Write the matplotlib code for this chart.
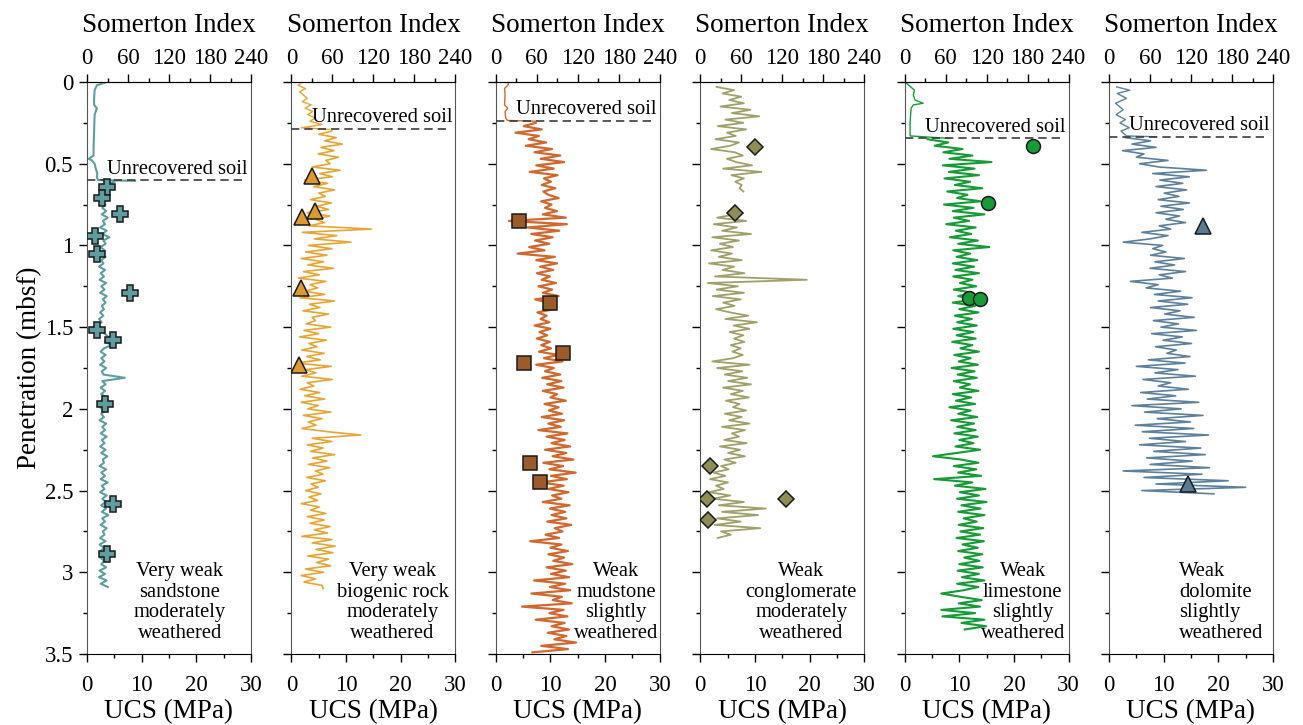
import numpy as np
import matplotlib
matplotlib.use('Agg')
import matplotlib.pyplot as plt
from matplotlib.ticker import FixedLocator, FuncFormatter

plt.rcParams['font.family'] = 'serif'
plt.rcParams['font.serif'] = ['Liberation Serif', 'DejaVu Serif']

STEP = 0.02  # spacing of the penetrometer record (m)

# --- Very weak sandstone ---
sand_soil_d = [0.0, 0.02, 0.05, 0.10, 0.14, 0.16, 0.20, 0.30, 0.40, 0.45, 0.47, 0.48, 0.50, 0.53, 0.56, 0.58, 0.60, 0.605]
sand_soil_v = [3.6, 1.8, 1.4, 1.3, 1.3, 1.8, 1.4, 1.3, 1.2, 1.2, 0.3, 0.9, 1.4, 1.6, 1.9, 1.8, 2.0, 8.8]
sand_top = 0.61
sand_v = [5.0, 3.2, 2.6, 3.3, 2.7, 3.1, 2.5, 3.4, 2.8, 3.5,
          2.7, 3.8, 2.9, 3.3, 2.4, 3.6, 2.8, 4.1, 3.0, 3.4,
          2.5, 3.2, 2.3, 3.4, 2.6, 3.0, 2.2, 3.3, 2.5, 3.1,
          2.3, 3.5, 2.6, 3.2, 2.4, 3.6, 2.9, 3.4, 2.7, 3.1,
          2.4, 3.0, 2.2, 2.7, 1.6, 1.7, 2.8, 3.6, 4.2, 3.3,
          4.5, 3.1, 2.5, 3.4, 2.6, 3.2, 2.4, 3.5, 2.7, 3.0,
          6.9, 2.8, 3.4, 2.5, 3.3, 2.6, 3.5, 2.7, 3.2, 2.4,
          3.4, 2.6, 3.1, 2.3, 3.5, 2.8, 3.3, 2.5, 3.6, 2.7,
          3.2, 2.4, 3.4, 2.6, 3.7, 2.9, 3.1, 2.3, 3.5, 2.6,
          3.3, 2.5, 3.8, 2.7, 3.2, 2.4, 3.6, 2.8, 3.4, 2.6,
          3.5, 2.7, 3.9, 2.8, 3.3, 2.5, 3.6, 2.9, 3.2, 2.4,
          3.4, 2.3, 3.1, 2.5, 3.7, 2.4, 3.2, 2.6, 3.5, 2.3,
          3.3, 2.2, 3.6, 2.5, 3.8]
sand_lab_d = [0.644, 0.712, 0.81, 0.94, 1.05, 1.29, 1.52, 1.58, 1.97, 2.58, 2.89]
sand_lab_v = [3.6, 2.7, 6.0, 1.5, 1.8, 7.9, 1.8, 4.7, 3.3, 4.7, 3.6]

# --- Very weak biogenic rock ---
bio_soil_d = [0.0, 0.02, 0.04, 0.06, 0.08, 0.10, 0.12, 0.14, 0.16, 0.18, 0.20, 0.22, 0.24, 0.26, 0.27, 0.28, 0.29]
bio_soil_v = [2.0, 1.2, 2.6, 1.5, 2.2, 2.9, 2.0, 3.6, 2.5, 3.9, 3.0, 4.4, 3.4, 5.6, 3.9, 1.8, 7.0]
bio_top = 0.30
bio_v = [7.4, 5.0, 8.2, 6.1, 9.3, 5.4, 7.8, 4.9, 8.6, 6.3,
         7.1, 3.8, 8.9, 5.2, 7.5, 2.4, 6.6, 4.1, 7.9, 5.0,
         6.2, 3.5, 7.3, 4.6, 6.8, 2.9, 7.0, 4.4, 6.1, 3.2,
         14.6, 2.0, 8.3, 4.2, 10.9, 3.1, 7.4, 2.6, 6.5, 1.8,
         5.9, 3.0, 7.7, 2.2, 5.1, 1.3, 6.3, 3.4, 4.8, 2.5,
         6.1, 1.6, 7.9, 3.3, 5.2, 2.1, 6.8, 3.8, 4.4, 2.7,
         7.2, 2.3, 5.0, 1.5, 6.4, 3.2, 4.7, 1.9, 6.0, 2.8,
         5.3, 0.8, 7.3, 2.6, 4.5, 1.9, 7.5, 2.9, 4.1, 1.6,
         5.2, 2.4, 6.1, 1.8, 4.9, 3.0, 7.2, 2.2, 5.6, 3.1,
         4.5, 1.9, 6.7, 12.7, 3.8, 7.4, 2.9, 5.8, 3.5, 7.9,
         3.9, 6.5, 3.1, 7.0, 4.4, 5.8, 2.8, 6.2, 3.6, 4.9,
         2.6, 5.4, 3.2, 4.8, 1.8, 5.1, 3.5, 6.3, 2.9, 6.0,
         3.4, 7.1, 4.2, 6.6, 1.9, 7.4, 3.8, 8.0, 4.5, 7.6,
         3.0, 6.8, 4.6, 7.2, 2.6, 5.9, 1.8, 4.4, 2.3, 5.6, 5.8]
bio_lab_d = [0.573, 0.79, 0.824, 1.26, 1.73]
bio_lab_v = [3.8, 4.4, 1.9, 1.8, 1.3]

# --- Weak mudstone ---
mud_soil_d = [0.0, 0.02, 0.04, 0.08, 0.14, 0.16, 0.18, 0.22, 0.235, 0.24]
mud_soil_v = [2.4, 2.2, 1.6, 1.7, 1.6, 2.2, 1.7, 1.8, 2.1, 7.3]
mud_top = 0.25
mud_v = [7.3, 5.1, 8.4, 3.6, 7.9, 6.0, 9.2, 5.5, 10.3, 7.1,
         11.8, 8.2, 12.5, 7.4, 10.6, 6.2, 11.3, 8.8, 10.1, 8.4,
         10.9, 8.7, 9.6, 11.5, 8.3, 10.2, 9.0, 11.2, 8.6, 12.8,
         2.4, 13.0, 5.8, 11.6, 6.5, 10.4, 7.2, 9.8, 6.1, 8.9,
         4.0, 10.8, 7.4, 11.2, 8.1, 10.5, 7.5, 9.9, 8.4, 11.0,
         7.8, 10.3, 8.6, 11.5, 7.2, 9.6, 8.9, 10.7, 7.6, 9.3,
         8.2, 9.8, 7.1, 10.0, 8.0, 9.4, 7.5, 9.9, 8.3, 10.1,
         7.9, 11.4, 8.8, 12.2, 7.4, 10.6, 9.0, 11.8, 8.5, 12.0,
         9.4, 12.4, 8.6, 11.2, 10.0, 12.8, 8.9, 11.5, 9.7, 12.1,
         8.4, 12.5, 9.6, 11.9, 7.8, 13.1, 9.3, 12.6, 10.2, 13.6,
         9.0, 12.9, 10.4, 14.2, 8.7, 12.3, 9.8, 14.6, 10.1, 13.0,
         8.1, 12.4, 9.6, 13.3, 10.3, 12.0, 8.6, 13.5, 9.9, 12.7,
         10.2, 12.9, 9.4, 13.8, 10.8, 12.2, 9.1, 11.6, 6.3, 12.0,
         10.0, 13.2, 9.6, 12.5, 10.5, 14.0, 9.3, 12.8, 10.1, 13.4,
         7.0, 12.7, 9.9, 13.6, 6.5, 12.1, 10.4, 13.9, 4.8, 12.4,
         9.8, 13.1, 7.3, 12.6, 10.2, 13.4, 9.5, 12.9, 10.7, 14.7, 8.3, 13.2, 6.7]
mud_lab_d = [0.85, 1.35, 1.66, 1.72, 2.33, 2.45]
mud_lab_v = [4.3, 9.9, 12.3, 5.1, 6.2, 8.1]

# --- Weak conglomerate (no soil cover, gap in record) ---
cong_top = 0.03
cong_v = [3.0, 6.2, 4.1, 7.5, 5.3, 8.0, 3.7, 9.2, 5.8, 10.8,
          4.6, 7.9, 3.2, 8.4, 4.9, 6.5, 2.8, 7.1, 5.5, 2.0,
          6.3, 7.8, 4.9, 6.6, 9.5, 4.2, 11.2, 5.7, 8.0, 6.4,
          7.6, 7.2, 7.9, np.nan, np.nan, np.nan, np.nan, np.nan, 5.2, 6.4,
          3.1, 8.4, 2.5, 6.7, 4.0, 9.3, 2.2, 7.1, 3.6, 6.0,
          2.0, 5.8, 3.4, 7.6, 1.6, 6.2, 4.1, 8.1, 2.7, 19.5,
          1.4, 6.9, 3.0, 8.0, 2.3, 7.4, 4.2, 6.3, 2.9, 5.5,
          8.8, 4.6, 10.4, 6.1, 9.0, 5.4, 7.9, 6.2, 8.1, 5.6,
          7.4, 5.9, 7.8, 6.0, 2.2, 9.0, 3.1, 7.7, 4.5, 8.6,
          5.1, 9.3, 4.2, 7.8, 5.6, 8.9, 4.7, 7.2, 6.0, 8.4,
          4.5, 7.6, 5.3, 9.0, 4.0, 8.2, 5.8, 7.1, 4.4, 8.5,
          3.6, 7.3, 5.1, 8.2, 4.4, 6.5, 3.8, 5.2, 2.4, 4.6,
          1.8, 5.1, 2.9, 4.3, 1.6, 5.5, 2.3, 8.0, 3.4, 12.0,
          4.0, 10.6, 3.1, 7.4, 2.6, 11.0, 3.8, 5.6, 3.2]
cong_lab_d = [0.40, 0.80, 2.35, 2.55, 2.55, 2.68]
cong_lab_v = [10.1, 6.4, 1.8, 1.3, 15.7, 1.4]

# --- Weak limestone ---
lime_soil_d = [0.0, 0.05, 0.08, 0.11, 0.13, 0.14, 0.16, 0.20, 0.25, 0.33, 0.345]
lime_soil_v = [0.1, 1.8, 1.6, 1.9, 3.4, 1.6, 1.2, 1.1, 1.0, 1.0, 8.2]
lime_top = 0.35
lime_v = [4.2, 8.0, 5.5, 10.6, 7.1, 12.4, 8.2, 15.9, 7.0, 12.8,
          8.1, 13.6, 7.3, 12.0, 9.2, 14.2, 7.8, 11.5, 9.6, 13.9,
          7.2, 12.6, 8.8, 14.6, 9.0, 11.8, 7.6, 13.0, 9.4, 12.2,
          8.3, 13.4, 9.8, 15.5, 8.9, 12.0, 9.5, 13.3, 8.8, 12.7,
          9.3, 13.6, 8.9, 12.4, 10.1, 13.1, 9.0, 12.5, 9.8, 13.0,
          8.8, 12.9, 10.0, 13.5, 9.2, 12.3, 9.6, 13.2, 8.9, 12.6,
          9.5, 13.0, 8.7, 12.4, 10.2, 13.6, 9.1, 12.1, 9.9, 13.4,
          8.6, 12.8, 9.7, 13.2, 9.0, 12.0, 10.1, 13.5, 8.8, 12.2,
          9.4, 12.9, 8.2, 12.1, 9.8, 13.3, 8.5, 12.7, 9.6, 13.0,
          9.1, 13.4, 10.0, 12.6, 9.3, 13.8, 9.5, 5.2, 10.3, 13.5,
          9.0, 13.1, 9.8, 14.0, 5.4, 12.4, 9.2, 14.8, 10.1, 13.6,
          9.6, 15.0, 10.4, 13.9, 9.8, 14.6, 10.8, 13.2, 9.9, 14.4,
          10.2, 13.8, 9.5, 14.5, 10.6, 13.4, 9.8, 14.2, 10.9, 13.7,
          10.0, 14.3, 9.7, 13.6, 10.5, 14.6, 9.6, 13.5, 10.8, 6.7,
          10.2, 14.1, 9.9, 13.8, 6.7, 12.9, 6.9, 14.6, 10.4, 14.9, 11.0]
lime_lab_d = [0.39, 0.74, 1.32, 1.33]
lime_lab_v = [23.5, 15.2, 11.7, 13.8]

# --- Weak dolomite ---
dol_soil_d = [0.03, 0.05, 0.07, 0.10, 0.13, 0.17, 0.20, 0.23, 0.25, 0.28, 0.30, 0.33, 0.335]
dol_soil_v = [1.4, 3.8, 1.5, 3.2, 1.2, 2.6, 1.3, 3.0, 2.0, 3.7, 2.2, 3.2, 8.6]
dol_top = 0.34
dol_v = [3.0, 7.6, 4.2, 8.6, 2.5, 6.4, 5.0, 10.8, 5.6, 9.1,
         17.8, 8.0, 14.7, 9.3, 13.5, 8.6, 14.2, 10.1, 12.8, 9.0,
         14.7, 9.5, 13.6, 8.6, 12.9, 10.4, 14.0, 9.2, 11.3, 6.0,
         10.8, 7.5, 2.6, 9.8, 8.0, 10.4, 7.6, 13.8, 8.4, 12.0,
         7.5, 14.0, 9.2, 11.6, 3.9, 9.0, 6.8, 13.1, 8.3, 15.2,
         9.0, 14.4, 7.6, 13.0, 10.2, 15.6, 8.1, 12.7, 9.5, 16.0,
         7.8, 13.4, 9.9, 15.1, 8.5, 12.3, 10.6, 14.8, 7.2, 13.9,
         5.0, 12.6, 8.4, 15.8, 6.2, 11.3, 9.0, 14.5, 5.8, 12.2,
         7.0, 16.4, 4.2, 13.2, 6.5, 17.2, 8.8, 14.9, 4.8, 15.5,
         6.1, 18.2, 7.4, 14.0, 5.6, 16.8, 8.2, 17.6, 6.9, 15.2,
         7.5, 18.4, 2.6, 17.0, 6.4, 21.8, 8.6, 25.0, 6.0, 19.2]
dol_lab_d = [0.88, 2.46]
dol_lab_v = [17.2, 14.5]

ucs_ticks = [0, 10, 20, 30]
ucs_minor = [5, 15, 25]
si_ticks = [0, 60, 120, 180, 240]
si_minor = [30, 90, 150, 210]
depth_ticks = [0, 0.5, 1, 1.5, 2, 2.5, 3, 3.5]
depth_minor = [0.25, 0.75, 1.25, 1.75, 2.25, 2.75, 3.25]

panels = [
    dict(soil=(sand_soil_d, sand_soil_v), top=sand_top, vals=sand_v, lab=(sand_lab_d, sand_lab_v),
         color='#5f9ea0', mfc='#5f9ea0', marker='P', ms=11, lw=1.5, soil_lw=1.5, unrec=0.60,
         text='Very weak\nsandstone\nmoderately\nweathered', tx=17.0, ha='center'),
    dict(soil=(bio_soil_d, bio_soil_v), top=bio_top, vals=bio_v, lab=(bio_lab_d, bio_lab_v),
         color='#e8a535', mfc='#dc9a2e', marker='^', ms=12, lw=1.2, soil_lw=1.0, unrec=0.286,
         text='Very weak\nbiogenic rock\nmoderately\nweathered', tx=18.5, ha='center'),
    dict(soil=(mud_soil_d, mud_soil_v), top=mud_top, vals=mud_v, lab=(mud_lab_d, mud_lab_v),
         color='#d0682f', mfc='#9c5b2a', marker='s', ms=9.5, lw=1.6, soil_lw=1.0, unrec=0.237,
         text='Weak\nmudstone\nslightly\nweathered', tx=22.0, ha='center'),
    dict(soil=None, top=cong_top, vals=cong_v, lab=(cong_lab_d, cong_lab_v),
         color='#a0a06a', mfc='#8e8e55', marker='D', ms=8, lw=1.3, soil_lw=1.0, unrec=None,
         text='Weak\nconglomerate\nmoderately\nweathered', tx=18.5, ha='center'),
    dict(soil=(lime_soil_d, lime_soil_v), top=lime_top, vals=lime_v, lab=(lime_lab_d, lime_lab_v),
         color='#179b37', mfc='#179b37', marker='o', ms=10, lw=1.5, soil_lw=1.0, unrec=0.345,
         text='Weak\nlimestone\nslightly\nweathered', tx=21.6, ha='center'),
    dict(soil=(dol_soil_d, dol_soil_v), top=dol_top, vals=dol_v, lab=(dol_lab_d, dol_lab_v),
         color='#5d809c', mfc='#5a7a95', marker='^', ms=12, lw=1.2, soil_lw=1.0, unrec=0.335,
         text='Weak\ndolomite\nslightly\nweathered', tx=12.8, ha='left'),
]

fig = plt.figure(figsize=(13.03, 7.25), dpi=100)
W, H = 1303, 725
ax_w, ax_b, ax_t = 164, 654, 82

for i, p in enumerate(panels):
    left = 87 + 204.4 * i
    ax = fig.add_axes([left / W, 1 - ax_b / H, ax_w / W, (ax_b - ax_t) / H])

    if p['soil'] is not None:
        ax.plot(p['soil'][1], p['soil'][0], color=p['color'], lw=p['soil_lw'], zorder=2)
    depth = p['top'] + STEP * np.arange(len(p['vals']))
    ax.plot(p['vals'], depth, color=p['color'], lw=p['lw'], zorder=2)
    ax.plot(p['lab'][1], p['lab'][0], linestyle='none', marker=p['marker'], ms=p['ms'],
            mfc=p['mfc'], mec='#1a1a1a', mew=1.1, zorder=4)

    if p['unrec'] is not None:
        ax.plot([0, 29], [p['unrec'], p['unrec']], color='#3c3c3c', lw=1.2,
                dashes=(5, 3), zorder=3)
        ax.text(29.4, p['unrec'] - 0.04, 'Unrecovered soil', ha='right', va='baseline',
                fontsize=14.8, zorder=5)

    ax.text(p['tx'], 3.43, p['text'], ha=p['ha'], va='bottom', fontsize=14.8,
            linespacing=1.1, multialignment=p['ha'])

    ax.set_xlim(0, 30)
    ax.set_ylim(3.5, 0)
    ax.xaxis.set_major_locator(FixedLocator(ucs_ticks))
    ax.xaxis.set_minor_locator(FixedLocator(ucs_minor))
    ax.yaxis.set_major_locator(FixedLocator(depth_ticks))
    ax.yaxis.set_minor_locator(FixedLocator(depth_minor))
    ax.yaxis.set_major_formatter(FuncFormatter(lambda v, pos: f'{v:g}'))
    ax.tick_params(which='major', direction='out', length=6, width=1.0, labelsize=16.5)
    ax.tick_params(which='minor', direction='out', length=3, width=1.0)
    ax.tick_params(axis='x', which='major', pad=9)
    ax.tick_params(axis='y', which='major', pad=4)
    ax.set_xlabel('UCS (MPa)', fontsize=19.5, labelpad=2)
    for side in ('left', 'right'):
        ax.spines[side].set_color('#555555')
    if i == 0:
        ax.set_ylabel('Penetration (mbsf)', fontsize=19.5, labelpad=2)
    else:
        ax.tick_params(axis='y', labelleft=False)

    top = ax.secondary_xaxis('top', functions=(lambda x: x * 8, lambda x: x / 8))
    top.xaxis.set_major_locator(FixedLocator(si_ticks))
    top.xaxis.set_minor_locator(FixedLocator(si_minor))
    top.tick_params(which='major', direction='out', length=6, width=1.0, labelsize=16.5, pad=3)
    top.tick_params(which='minor', direction='out', length=3, width=1.0)
    top.set_xlabel('Somerton Index', fontsize=19.5, labelpad=12)

fig.savefig('out.png', dpi=100)
